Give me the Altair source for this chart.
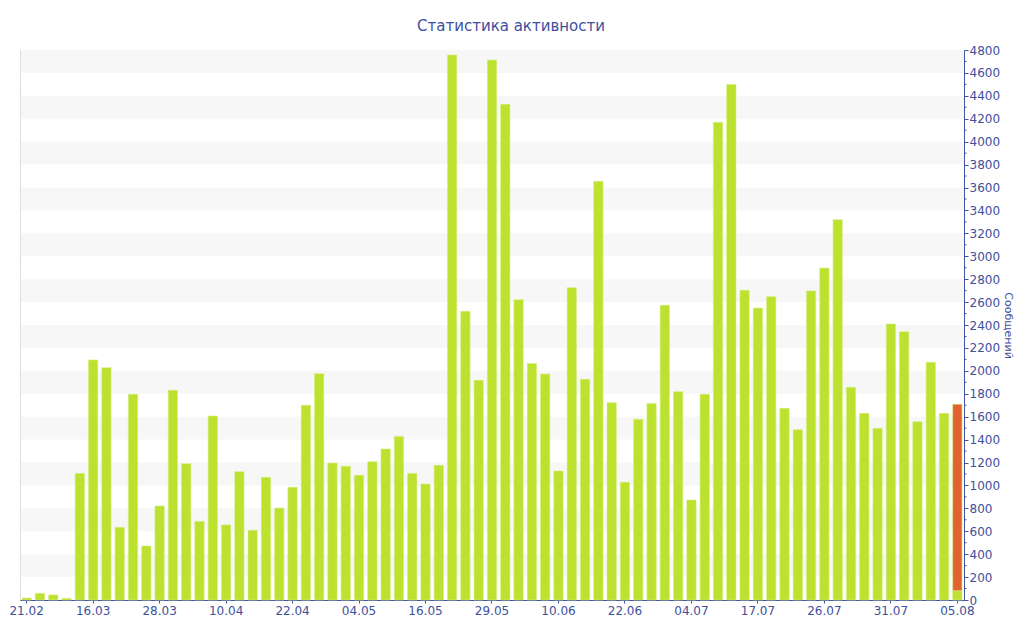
import altair as alt
import pandas as pd

# ---- data ----
values = [17, 58, 44, 14, 1105, 2095, 2028, 634, 1795, 471,
          820, 1830, 1190, 686, 1606, 655, 1120, 608, 1071, 803,
          983, 1699, 1975, 1195, 1167, 1088, 1207, 1318, 1428, 1105,
          1012, 1175, 4756, 2519, 1917, 4713, 4326, 2621, 2064, 1972,
          1126, 2726, 1926, 3654, 1722, 1027, 1577, 1716, 2572, 1818,
          873, 1795, 4169, 4500, 2703, 2548, 2647, 1673, 1486, 2697,
          2897, 3319, 1856, 1629, 1498, 2409, 2342, 1556, 2074, 1629,
          81]
current_extra = 1627  # orange part on the last bar
tick_labels = ["21.02", "16.03", "28.03", "10.04", "22.04", "04.05", "16.05",
               "29.05", "10.06", "22.06", "04.07", "17.07", "26.07", "31.07", "05.08"]
band_starts = list(range(200, 4800, 400))
minor_ticks = list(range(100, 4800, 200))

n = len(values)
rows = [{"i": i, "v": v, "s": "a", "o": 0} for i, v in enumerate(values)]
rows.append({"i": n - 1, "v": current_extra, "s": "b", "o": 1})
df = pd.DataFrame(rows)
bands = pd.DataFrame({"v": band_starts, "v2": [b + 200 for b in band_starts]})
minors = pd.DataFrame({"v": minor_ticks})

W, H = 944, 550
BLUE = "#4455a3"
LBL = "#3e509c"

label_expr = "[" + ",".join("'%s'" % t for t in tick_labels) + "][datum.value / 5]"

yscale = alt.Scale(domain=[0, 4800], nice=False, zero=True)
yaxis = alt.Axis(orient="right", values=list(range(0, 4801, 200)),
                 format="d",
                 labelColor=LBL, labelFontSize=12,
                 labelFont="DejaVu Sans", domainColor=BLUE,
                 tickColor=BLUE, tickSize=4, labelPadding=1,
                 grid=False, title="Сообщений", titleColor=LBL,
                 titleFont="DejaVu Sans", titleFontSize=11,
                 titleFontWeight="normal", titlePadding=3)

band_layer = alt.Chart(bands).mark_rect(
    fill="#f7f7f7", strokeWidth=0, strokeOpacity=0
).encode(
    x=alt.value(1), x2=alt.value(W),
    y=alt.Y("v:Q", scale=yscale, axis=yaxis),
    y2="v2:Q",
)

minor_layer = alt.Chart(minors).mark_rule(color=BLUE, strokeWidth=1).encode(
    x=alt.value(W), x2=alt.value(W + 2.5),
    y=alt.Y("v:Q", scale=yscale, axis=yaxis),
)

bars = alt.Chart(df).mark_bar(stroke="#d4ee7a", strokeWidth=0.6).encode(
    x=alt.X("i:O", scale=alt.Scale(paddingInner=0.3, paddingOuter=0.15),
            axis=alt.Axis(values=list(range(0, n, 5)), labelExpr=label_expr,
                          labelAngle=0, labelColor=LBL, labelFontSize=12,
                          labelFont="DejaVu Sans", domainColor=BLUE,
                          tickColor=BLUE, tickSize=3, labelPadding=2,
                          title=None, grid=False)),
    y=alt.Y("v:Q", stack="zero", scale=yscale, axis=yaxis),
    color=alt.Color("s:N", scale=alt.Scale(domain=["a", "b"],
                                           range=["#bde12f", "#e0632f"]),
                    legend=None),
    order=alt.Order("o:Q"),
)

chart = alt.layer(band_layer, bars, minor_layer).properties(
    width=W, height=H,
    title=alt.TitleParams("Статистика активности", fontSize=15,
                          font="DejaVu Sans", fontWeight="normal",
                          color="#3d4f9e", offset=10, dx=19, anchor="middle"),
    autosize=alt.AutoSizeParams(type="none"),
    padding={"left": 12, "top": 42, "right": 52, "bottom": 32},
).configure_view(stroke=None).configure(background="white")

chart.save("out.html", embed_options={"renderer": "svg", "actions": False})
